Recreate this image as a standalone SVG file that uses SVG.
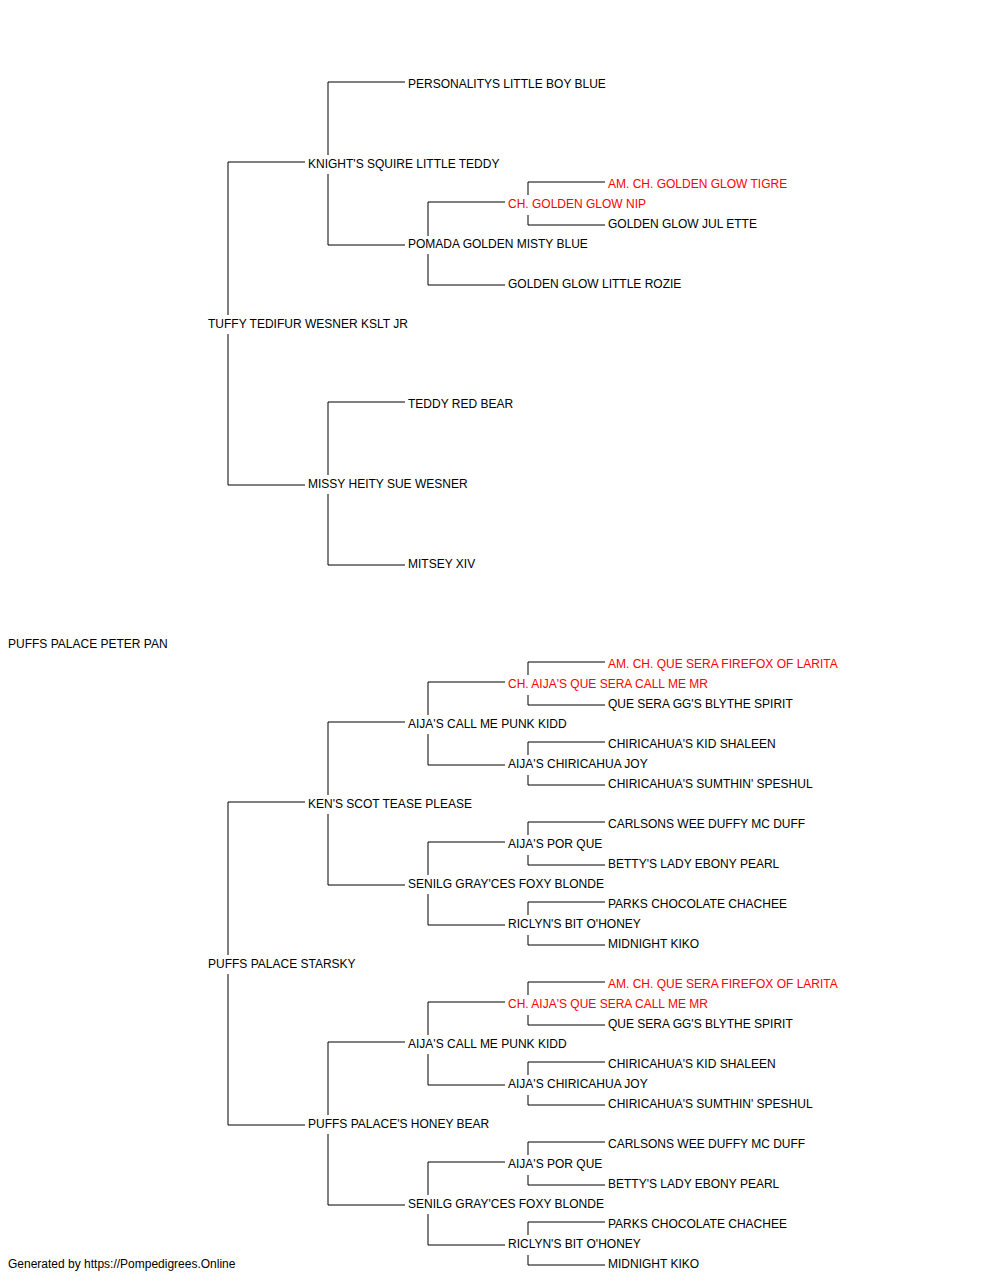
<svg xmlns="http://www.w3.org/2000/svg" width="1000" height="1280" viewBox="0 0 1000 1280">
<style>
text{font-family:"Liberation Sans",Arial,sans-serif;font-size:12px;fill:#000}
text.ch{fill:#ff0000}
#connectors path{fill:none;stroke:#000;stroke-width:1}
</style>
<rect width="1000" height="1280" fill="#fff"/>
<g id="connectors">
<path d="M305 162H228V315M228 334V485H305"/>
<path d="M305 802H228V955M228 974V1125H305"/>
<path d="M405 82H328V155M328 174V245H405"/>
<path d="M405 402H328V475M328 494V565H405"/>
<path d="M405 722H328V795M328 814V885H405"/>
<path d="M405 1042H328V1115M328 1134V1205H405"/>
<path d="M505 202H428V236M428 254V285H505"/>
<path d="M505 682H428V715M428 734V765H505"/>
<path d="M505 842H428V875M428 894V925H505"/>
<path d="M505 1002H428V1035M428 1054V1085H505"/>
<path d="M505 1162H428V1195M428 1214V1245H505"/>
<path d="M605 182H528V195M528 215V225H605"/>
<path d="M605 662H528V675M528 695V705H605"/>
<path d="M605 742H528V755M528 775V785H605"/>
<path d="M605 822H528V835M528 855V865H605"/>
<path d="M605 902H528V915M528 935V945H605"/>
<path d="M605 982H528V995M528 1015V1025H605"/>
<path d="M605 1062H528V1075M528 1095V1105H605"/>
<path d="M605 1142H528V1155M528 1175V1185H605"/>
<path d="M605 1222H528V1235M528 1255V1265H605"/>
</g>
<g id="n-peterpan"><text x="8" y="648">PUFFS PALACE PETER PAN</text></g>
<g id="n-tuffy"><text x="208" y="328">TUFFY TEDIFUR WESNER KSLT JR</text></g>
<g id="n-starsky"><text x="208" y="968">PUFFS PALACE STARSKY</text></g>
<g id="n-knight"><text x="308" y="168">KNIGHT'S SQUIRE LITTLE TEDDY</text></g>
<g id="n-missy"><text x="308" y="488">MISSY HEITY SUE WESNER</text></g>
<g id="n-ken"><text x="308" y="808">KEN'S SCOT TEASE PLEASE</text></g>
<g id="n-honey"><text x="308" y="1128">PUFFS PALACE'S HONEY BEAR</text></g>
<g id="n-personalitys"><text x="408" y="88">PERSONALITYS LITTLE BOY BLUE</text></g>
<g id="n-pomada"><text x="408" y="248">POMADA GOLDEN MISTY BLUE</text></g>
<g id="n-teddyred"><text x="408" y="408">TEDDY RED BEAR</text></g>
<g id="n-mitsey"><text x="408" y="568">MITSEY XIV</text></g>
<g id="n-punk1"><text x="408" y="728">AIJA'S CALL ME PUNK KIDD</text></g>
<g id="n-senilg1"><text x="408" y="888">SENILG GRAY'CES FOXY BLONDE</text></g>
<g id="n-punk2"><text x="408" y="1048">AIJA'S CALL ME PUNK KIDD</text></g>
<g id="n-senilg2"><text x="408" y="1208">SENILG GRAY'CES FOXY BLONDE</text></g>
<g id="n-nip"><text class="ch" x="508" y="208">CH. GOLDEN GLOW NIP</text></g>
<g id="n-rozie"><text x="508" y="288">GOLDEN GLOW LITTLE ROZIE</text></g>
<g id="n-callmemr1"><text class="ch" x="508" y="688">CH. AIJA'S QUE SERA CALL ME MR</text></g>
<g id="n-joy1"><text x="508" y="768">AIJA'S CHIRICAHUA JOY</text></g>
<g id="n-porque1"><text x="508" y="848">AIJA'S POR QUE</text></g>
<g id="n-riclyn1"><text x="508" y="928">RICLYN'S BIT O'HONEY</text></g>
<g id="n-callmemr2"><text class="ch" x="508" y="1008">CH. AIJA'S QUE SERA CALL ME MR</text></g>
<g id="n-joy2"><text x="508" y="1088">AIJA'S CHIRICAHUA JOY</text></g>
<g id="n-porque2"><text x="508" y="1168">AIJA'S POR QUE</text></g>
<g id="n-riclyn2"><text x="508" y="1248">RICLYN'S BIT O'HONEY</text></g>
<g id="n-tigre"><text class="ch" x="608" y="188">AM. CH. GOLDEN GLOW TIGRE</text></g>
<g id="n-julette"><text x="608" y="228">GOLDEN GLOW JUL ETTE</text></g>
<g id="n-firefox1"><text class="ch" x="608" y="668">AM. CH. QUE SERA FIREFOX OF LARITA</text></g>
<g id="n-blythe1"><text x="608" y="708">QUE SERA GG'S BLYTHE SPIRIT</text></g>
<g id="n-shaleen1"><text x="608" y="748">CHIRICAHUA'S KID SHALEEN</text></g>
<g id="n-speshul1"><text x="608" y="788">CHIRICAHUA'S SUMTHIN' SPESHUL</text></g>
<g id="n-duffy1"><text x="608" y="828">CARLSONS WEE DUFFY MC DUFF</text></g>
<g id="n-betty1"><text x="608" y="868">BETTY'S LADY EBONY PEARL</text></g>
<g id="n-parks1"><text x="608" y="908">PARKS CHOCOLATE CHACHEE</text></g>
<g id="n-kiko1"><text x="608" y="948">MIDNIGHT KIKO</text></g>
<g id="n-firefox2"><text class="ch" x="608" y="988">AM. CH. QUE SERA FIREFOX OF LARITA</text></g>
<g id="n-blythe2"><text x="608" y="1028">QUE SERA GG'S BLYTHE SPIRIT</text></g>
<g id="n-shaleen2"><text x="608" y="1068">CHIRICAHUA'S KID SHALEEN</text></g>
<g id="n-speshul2"><text x="608" y="1108">CHIRICAHUA'S SUMTHIN' SPESHUL</text></g>
<g id="n-duffy2"><text x="608" y="1148">CARLSONS WEE DUFFY MC DUFF</text></g>
<g id="n-betty2"><text x="608" y="1188">BETTY'S LADY EBONY PEARL</text></g>
<g id="n-parks2"><text x="608" y="1228">PARKS CHOCOLATE CHACHEE</text></g>
<g id="n-kiko2"><text x="608" y="1268">MIDNIGHT KIKO</text></g>
<text x="8" y="1268">Generated by https://Pompedigrees.Online</text>
</svg>
